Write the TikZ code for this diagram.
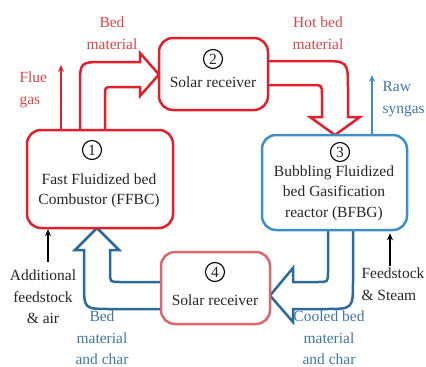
\documentclass[tikz,border=0pt]{standalone}
\usepackage{fontspec}
\setmainfont{Liberation Serif}
\usetikzlibrary{positioning, arrows.meta, calc}

\definecolor{hotred}{HTML}{E0202A}
\definecolor{labelred}{HTML}{D9474B}
\definecolor{recvred}{HTML}{D8686C}
\definecolor{gasblue}{HTML}{3C8FC8}
\definecolor{flowblue}{HTML}{2C6A9A}
\definecolor{labelblue}{HTML}{3F78A5}

\begin{document}
\begin{tikzpicture}[
                x=1pt, y=-1pt,
                >={Stealth[length=7pt, width=6pt]},
                font=\fontsize{15.5}{20.5}\selectfont,
                unit/.style={draw, rectangle, rounded corners=14pt, line width=2.5pt, fill=white, inner sep=0pt},
                stepnum/.style={circle, draw=black, line width=1.1pt, minimum size=19pt, inner sep=0pt, text=black!85},
                boxtext/.style={align=center, text=black!85},
                hollow/.style={line width=2.5pt, line join=miter},
                thinflow/.style={->, line width=1.3pt},
                side/.style={align=center, font=\fontsize{15.5}{21.5}\selectfont},
            ]
                \useasboundingbox (0,0) rectangle (426,367);

                % Draw the hollow flow arrows
                \draw[hollow, hotred] (80,130) -- (80,86) .. controls (80,62) .. (104,62) -- (140,62) -- (140,53)
                    -- (159,74.5) -- (140,96) -- (140,87) -- (113,87) .. controls (105,87) .. (105,95) -- (105,130);
                \draw[hollow, hotred] (268,61) -- (320,61) .. controls (348,61) .. (348,89) -- (348,117) -- (360,117)
                    -- (335,135) -- (310,117) -- (322,117) -- (322,95) .. controls (322,85) .. (312,85) -- (268,85);
                \draw[hollow, flowblue] (328,230) -- (328,272) .. controls (328,282) .. (318,282) -- (293,282) -- (293,268)
                    -- (270,295.5) -- (293,322) -- (293,309) -- (325,309) .. controls (353,309) .. (353,281) -- (353,230);
                \draw[hollow, flowblue] (161,282) -- (120,282) .. controls (110,282) .. (110,272) -- (110,250) -- (119,250)
                    -- (97,228) -- (75,250) -- (84,250) -- (84,283) .. controls (84,309) .. (110,309) -- (161,309);

                % Draw the four units
                \node[unit, draw=hotred, minimum width=146pt, minimum height=98pt] (ffbc) at (100,179) {};
                \node[unit, draw=hotred, minimum width=109pt, minimum height=72pt] (recv-top) at (213.5,74) {};
                \node[unit, draw=gasblue, minimum width=145pt, minimum height=95pt] (bfbg) at (334.5,182.5) {};
                \node[unit, draw=recvred, minimum width=109pt, minimum height=72pt] (recv-bot) at (215.5,288) {};

                % Numbers and texts inside the units
                \node[stepnum] (n-1) at (92,150) {1};
                \node[boxtext] (t-1) at (99,191) {Fast Fluidized bed\\Combustor (FFBC)};
                \node[stepnum] (n-2) at (213,59) {2};
                \node[boxtext] (t-2) at (213,82) {Solar receiver};
                \node[stepnum] (n-3) at (340,152) {3};
                \node[boxtext] (t-3) at (334,193) {Bubbling Fluidized\\bed Gasification\\reactor (BFBG)};
                \node[stepnum] (n-4) at (215,272) {4};
                \node[boxtext] (t-4) at (215,300) {Solar receiver};

                % Streams in and out
                \coordinate (flue) at (61,65);
                \coordinate (syngas) at (372,75);
                \coordinate (addin) at (48,262);
                \coordinate (feedin) at (390,266);
                \draw[thinflow, hotred] (flue |- ffbc.north) -- (flue);
                \draw[thinflow, gasblue] (syngas |- bfbg.north) -- (syngas);
                \draw[thinflow, black] (addin) -- (addin |- ffbc.south);
                \draw[thinflow, black] (feedin) -- ($(feedin |- bfbg.south)+(0,2)$);

                % Labels
                \node[side, anchor=west, align=left, text=labelred] (flue-lbl) at (16,90) {Flue\\gas};
                \node[side, text=labelred] (bed-lbl) at (112,33) {Bed\\material};
                \node[side, text=labelred] (hot-lbl) at (318,33) {Hot bed\\material};
                \node[side, anchor=west, align=left, text=labelblue] (raw-lbl) at (379,99) {Raw\\syngas};
                \node[side, text=black!85] (add-lbl) at (43,297) {Additional\\feedstock\\\& air};
                \node[side, anchor=west, align=left, text=black!85] (feed-lbl) at (358,284) {Feedstock\\\& Steam};
                \node[side, text=labelblue] (char-lbl) at (102,338) {Bed\\material\\and char};
                \node[side, text=labelblue] (cool-lbl) at (329,338) {Cooled bed\\material\\and char};
            \end{tikzpicture}
\end{document}
